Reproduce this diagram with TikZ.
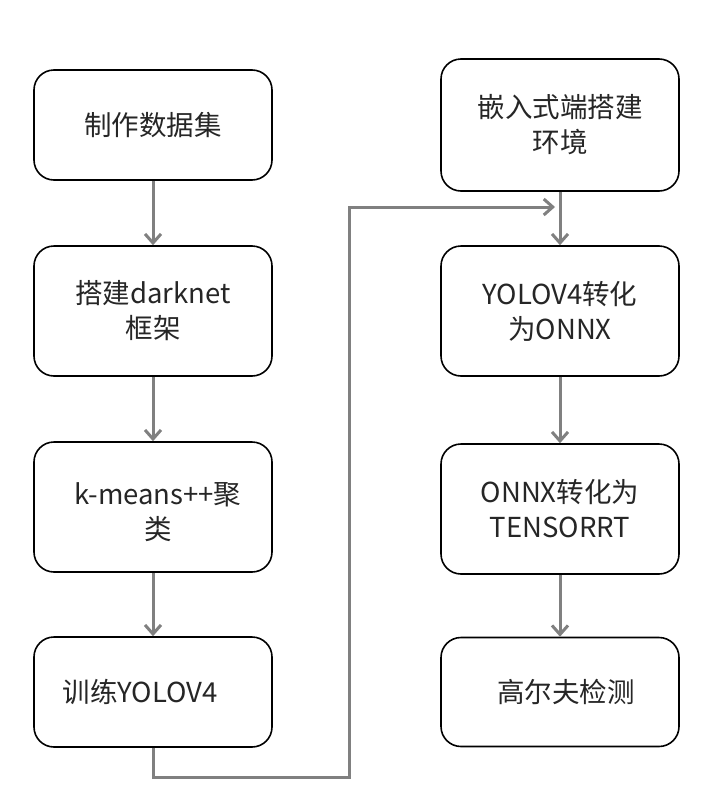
\documentclass[tikz,border=0pt]{standalone}
\usepackage{fontspec}
\setmainfont{Noto Sans CJK SC}
\usetikzlibrary{arrows.meta}
\definecolor{conngray}{HTML}{808080}
\tikzset{
  x=1pt, y=-1pt,
  stepbox/.style={draw=black, line width=1.6pt, rounded corners=20pt, fill=white,
    minimum width=238pt, align=center, font=\fontsize{27.5}{35}\selectfont, text=black!85, inner sep=0pt},
  conn/.style={draw=conngray, line width=3pt, -{Straight Barb[length=9pt,width=16pt,line width=3pt]}},
}
\begin{document}
\begin{tikzpicture}
\useasboundingbox (0,0) rectangle (722,806);
\fill[white] (0,0) rectangle (722,806);
% left column
\node[stepbox, minimum height=110pt] (l1) at (153,125) {制作数据集};
\node[stepbox, minimum height=130pt] (l2) at (153,311) {搭建darknet\\框架};
\node[stepbox, minimum height=130pt] (l3) at (153,507) {\raisebox{-14pt}[0pt][0pt]{\begin{tabular}{@{}c@{}}k-means++聚\\类\end{tabular}}\hspace*{-10pt}};
\node[stepbox, minimum height=110pt] (l4) at (153,692) {训练YOLOV4\hspace*{26pt}};
% right column
\node[stepbox, minimum height=132pt] (r1) at (560,125) {嵌入式端搭建\\环境};
\node[stepbox, minimum height=130pt] (r2) at (560,311) {YOLOV4转化\\为ONNX};
\node[stepbox, minimum height=130pt] (r3) at (560,509) {ONNX转化为\\TENSORRT};
\node[stepbox, minimum height=109pt] (r4) at (560,692) {\hspace*{12pt}高尔夫检测};
% coordinates of the loop
\coordinate (c1) at (349,777);
\coordinate (c3) at (555,207);
% connectors
\draw[conn] (l1.south) -- (l2.north);
\draw[conn] (l2.south) -- (l3.north);
\draw[conn] (l3.south) -- (l4.north);
\draw[conn] (l4.south) |- (c1) |- (c3);
\draw[conn] (r1.south) -- (r2.north);
\draw[conn] (r2.south) -- (r3.north);
\draw[conn] (r3.south) -- (r4.north);
\end{tikzpicture}
\end{document}
